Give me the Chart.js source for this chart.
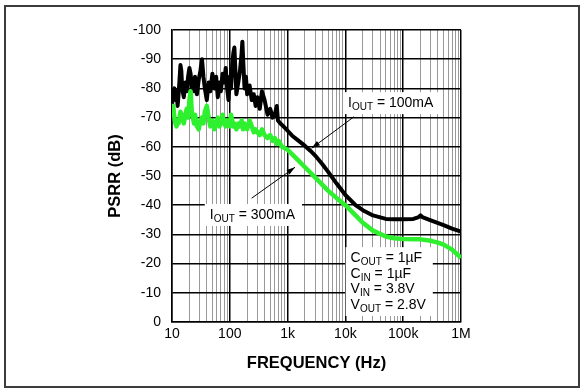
<!DOCTYPE html>
<html>
<head>
<meta charset="utf-8">
<script src="https://cdn.jsdelivr.net/npm/chart.js@4/dist/chart.umd.min.js"></script>
<style>
  html, body { margin: 0; padding: 0; background: #fff; }
  #wrap { position: relative; width: 586px; height: 392px; }
  #frame { position: absolute; left: 4px; top: 5px; width: 576px; height: 383px;
           box-sizing: border-box; border: 2px solid #3c3c3c; pointer-events: none; }
</style>
</head>
<body>
<div id="wrap">
  <canvas id="psrrChart" width="586" height="392"></canvas>
  <div id="frame"></div>
</div>
<script>
// frequency axis ticks
const tickValues = [10, 100, 1000, 10000, 100000, 1000000];
const tickLabels = ['10', '100', '1k', '10k', '100k', '1M'];

// IOUT = 100mA (black)
const freq100 = [10, 10.5, 11, 11.5, 12, 12.5, 13, 13.5, 14, 14.5, 15, 16, 17, 18, 19, 20, 21, 22, 23, 24,
  25, 27, 29, 31, 33, 35, 37, 40, 43, 46, 50, 54, 58, 62, 66, 70, 75, 80, 85, 90,
  95, 100, 105, 110, 115, 120, 125, 130, 140, 150, 160, 165, 170, 180, 190, 200, 220, 240, 260, 280,
  300, 330, 360, 400, 450, 500, 550, 600, 650, 680, 750, 850, 1000, 1200, 1500, 2000, 2500, 3000, 4000, 5000,
  7000, 10000, 15000, 20000, 30000, 50000, 70000, 100000, 150000, 180000, 200000, 220000, 300000, 500000, 700000, 1000000];
const psrr100 = [-74, -79, -80, -76, -79, -74, -78, -83, -88, -86, -80, -77, -82, -79, -84, -87, -85, -80, -82, -79,
  -84, -78, -83, -86, -90, -84, -80, -76, -82, -79, -85, -80, -84, -77, -82, -79, -85, -82, -87, -80,
  -76, -84, -80, -88, -92, -94, -86, -78, -82, -86, -92, -96, -90, -80, -84, -78, -81, -76, -78, -74,
  -77, -73, -79, -76, -71, -73, -70, -71, -74, -69, -68, -67, -65.5, -63.8, -62.3, -60.3, -58.6, -57, -54, -51.5,
  -47.5, -43.5, -40, -38.3, -36.5, -35.3, -35.2, -35.2, -35.3, -35.8, -36.5, -35.8, -34.8, -33.2, -32, -31];

// IOUT = 300mA (green)
const freq300 = [10, 10.5, 11, 11.5, 12, 12.5, 13, 14, 15, 16, 17, 18, 19, 20, 21, 22, 23, 24, 25, 27,
  29, 31, 33, 35, 37, 40, 43, 46, 50, 54, 58, 62, 66, 70, 75, 80, 85, 90, 95, 100,
  105, 110, 115, 120, 130, 140, 150, 160, 170, 180, 200, 220, 240, 260, 280, 300, 330, 360, 400, 450,
  500, 550, 600, 650, 700, 800, 900, 1000, 1500, 2000, 3000, 5000, 7000, 10000, 15000, 20000, 30000, 50000, 70000, 100000,
  150000, 200000, 300000, 400000, 500000, 700000, 1000000];
const psrr300 = [-72, -74, -70, -68, -67, -69, -68, -72, -70, -68, -71, -73, -70, -76, -79, -72, -70, -68, -71, -67,
  -66, -69, -70, -68, -72, -74, -70, -67, -69, -66, -68, -70, -67, -68, -71, -68, -67, -69, -68, -67,
  -71, -69, -67, -68, -66, -68, -67, -69, -66, -68, -66, -69, -67, -65, -66, -65, -64, -66, -64, -63,
  -64, -62, -63, -61, -62, -60, -59.5, -59, -55.5, -53, -49.5, -45, -42.5, -40, -36.5, -34, -31.3, -29.3, -28.7, -28.4,
  -28.3, -28.3, -27.8, -27.2, -26.5, -24.8, -22];

// text notes, placed in data units
const notes = [
  { x: 11100, y: -75.3, lines: [[['I', 0], ['OUT', 1], [' = 100mA', 0]]] },
  { x: 45, y: -37, lines: [[['I', 0], ['OUT', 1], [' = 300mA', 0]]] },
  { x: 12300, y: -22.2, lines: [
    [['C', 0], ['OUT', 1], [' = 1µF', 0]],
    [['C', 0], ['IN', 1], [' = 1µF', 0]],
    [['V', 0], ['IN', 1], [' = 3.8V', 0]],
    [['V', 0], ['OUT', 1], [' = 2.8V', 0]]
  ] }
];
const arrows = [
  { from: [14100, -70.3], to: [2600, -59.5] },
  { from: [239, -42.4], to: [1343, -53] }
];

const FONT = '"Liberation Sans", Arial, sans-serif';
const isMajor = v => Math.abs(Math.log10(v) - Math.round(Math.log10(v))) < 1e-6;

const notesPlugin = {
  id: 'notes',
  afterDatasetsDraw(chart) {
    const { ctx, scales: { x, y } } = chart;
    ctx.save();
    // arrows
    arrows.forEach(a => {
      const x1 = x.getPixelForValue(a.from[0]), y1 = y.getPixelForValue(a.from[1]);
      const x2 = x.getPixelForValue(a.to[0]), y2 = y.getPixelForValue(a.to[1]);
      ctx.strokeStyle = '#000';
      ctx.fillStyle = '#000';
      ctx.lineWidth = 1;
      ctx.beginPath();
      ctx.moveTo(x1, y1);
      ctx.lineTo(x2, y2);
      ctx.stroke();
      const ang = Math.atan2(y2 - y1, x2 - x1);
      ctx.beginPath();
      ctx.moveTo(x2, y2);
      ctx.lineTo(x2 - 9 * Math.cos(ang - 0.3), y2 - 9 * Math.sin(ang - 0.3));
      ctx.lineTo(x2 - 9 * Math.cos(ang + 0.3), y2 - 9 * Math.sin(ang + 0.3));
      ctx.closePath();
      ctx.fill();
    });
    // text boxes
    const big = '14px ' + FONT, small = '10px ' + FONT;
    const lineH = 15.6;
    notes.forEach(n => {
      const px = x.getPixelForValue(n.x), py = y.getPixelForValue(n.y);
      let maxW = 0;
      n.lines.forEach(parts => {
        let w = 0;
        parts.forEach(([t, sub]) => { ctx.font = sub ? small : big; w += ctx.measureText(t).width; });
        maxW = Math.max(maxW, w);
      });
      ctx.fillStyle = '#fff';
      ctx.fillRect(px - 5, py - 10, maxW + 12, lineH * (n.lines.length - 1) + 22);
      ctx.fillStyle = '#000';
      ctx.textBaseline = 'alphabetic';
      ctx.textAlign = 'left';
      n.lines.forEach((parts, i) => {
        let cx = px;
        const by = py + 5 + i * lineH;
        parts.forEach(([t, sub]) => {
          ctx.font = sub ? small : big;
          ctx.fillText(t, cx, by + (sub ? 3 : 0));
          cx += ctx.measureText(t).width;
        });
      });
    });
    ctx.restore();
  }
};

const toPoints = (xs, ys) => xs.map((f, i) => ({ x: f, y: ys[i] }));

new Chart(document.getElementById('psrrChart').getContext('2d'), {
  type: 'line',
  data: {
    datasets: [
      {
        label: 'IOUT = 100mA',
        data: toPoints(freq100, psrr100),
        borderColor: '#000',
        borderWidth: 4,
        borderJoinStyle: 'round',
        pointRadius: 0,
        tension: 0,
        order: 1
      },
      {
        label: 'IOUT = 300mA',
        data: toPoints(freq300, psrr300),
        borderColor: '#2ef02e',
        borderWidth: 4.5,
        borderJoinStyle: 'round',
        pointRadius: 0,
        tension: 0,
        order: 0
      }
    ]
  },
  options: {
    responsive: false,
    animation: false,
    layout: { padding: { left: 100, right: 125, top: 30, bottom: 16 } },
    plugins: { legend: { display: false }, tooltip: { enabled: false } },
    scales: {
      x: {
        type: 'logarithmic',
        min: 10,
        max: 1000000,
        afterBuildTicks: scale => {
          const t = [];
          for (let d = 10; d < 1000000; d *= 10) {
            for (let m = 1; m < 10; m++) t.push({ value: d * m });
          }
          t.push({ value: 1000000 });
          scale.ticks = t;
        },
        afterFit: scale => { scale.height = 54; },
        ticks: {
          autoSkip: false,
          maxRotation: 0,
          padding: 4,
          color: '#000',
          font: { family: FONT, size: 14 },
          callback: v => {
            const i = tickValues.indexOf(v);
            return i >= 0 ? tickLabels[i] : '';
          }
        },
        grid: {
          drawTicks: false,
          color: c => (c.tick && isMajor(c.tick.value)) ? '#000' : '#999',
          lineWidth: c => (c.tick && isMajor(c.tick.value)) ? 1.5 : 1
        },
        border: { color: '#000', width: 1.5 },
        title: {
          display: true,
          text: 'FREQUENCY (Hz)',
          color: '#000',
          font: { family: FONT, size: 16.5, weight: 'bold' },
          padding: { top: 0, bottom: 3 }
        }
      },
      y: {
        min: -100,
        max: 0,
        reverse: true,
        afterFit: scale => { scale.width = 72; },
        ticks: {
          stepSize: 10,
          padding: 11,
          color: '#000',
          font: { family: FONT, size: 14 }
        },
        grid: { drawTicks: false, color: '#000', lineWidth: 1.5 },
        border: { color: '#000', width: 1.5 },
        title: {
          display: true,
          text: 'PSRR (dB)',
          color: '#000',
          font: { family: FONT, size: 16.5, weight: 'bold' },
          padding: { top: 6, bottom: 0 }
        }
      }
    }
  },
  plugins: [notesPlugin]
});
</script>
</body>
</html>
